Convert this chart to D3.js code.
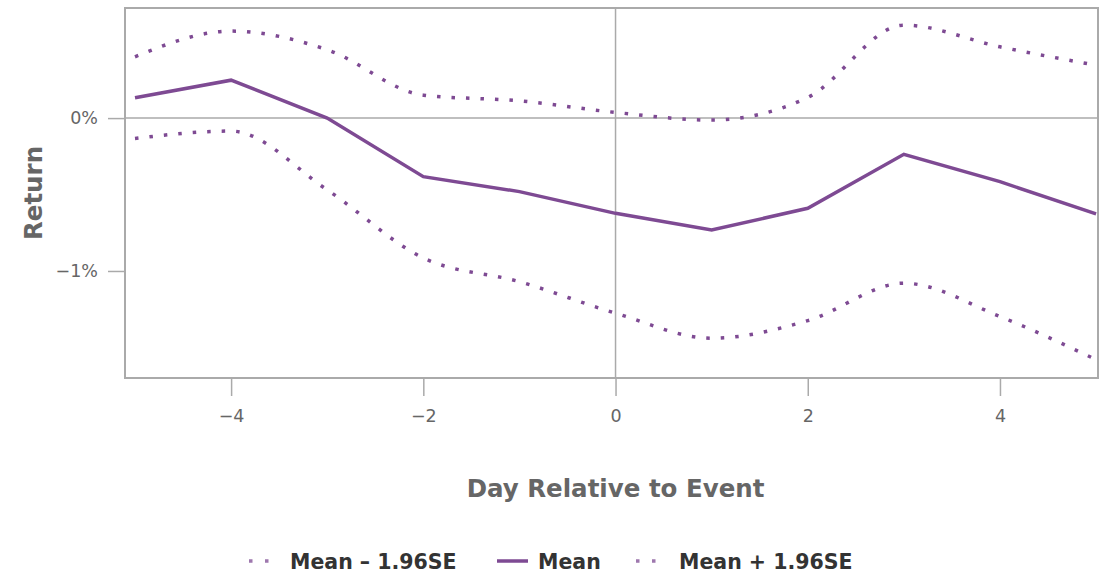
<!DOCTYPE html>
<html>
<head>
<meta charset="utf-8">
<script src="https://cdn.jsdelivr.net/npm/d3@7"></script>
<style>
  body { margin: 0; background: #fff; }
  svg { display: block; font-family: "DejaVu Sans", sans-serif; }
</style>
</head>
<body>
<svg class="chart"></svg>
<script>
// day offsets and returns (in %)
var days = [-5, -4, -3, -2, -1, 0, 1, 2, 3, 4, 5];
var meanRet  = [0.133, 0.248, 0.0, -0.383, -0.481, -0.623, -0.732, -0.590, -0.237, -0.416, -0.627];
var upperRet = [0.401, 0.569, 0.447, 0.150, 0.113, 0.037, -0.013, 0.135, 0.608, 0.466, 0.346];
var lowerRet = [-0.133, -0.085, -0.470, -0.915, -1.070, -1.276, -1.440, -1.325, -1.080, -1.298, -1.580];
var xTicks = [-4, -2, 0, 2, 4];
var yTicks = [0, -1];
var legendNames = ["Mean \u2013 1.96SE", "Mean", "Mean + 1.96SE"];

var W = 1099, H = 575;
var margin = {top: 8, right: 1, bottom: 197, left: 125},
    width = W - margin.left - margin.right,
    height = H - margin.top - margin.bottom;

var purple = "#7e4a93", grid = "#aaaaaa", textGray = "#666";

var svg = d3.select(".chart").attr("width", W).attr("height", H);
var chart = svg.append("g")
    .attr("transform", "translate(" + margin.left + "," + margin.top + ")");

var x = d3.scaleLinear().domain([-5.104, 5.02]).range([0, width]);
var y = d3.scaleLinear().domain([-1.7, 0.72]).range([height, 0]);

// frame
chart.append("rect")
    .attr("width", width).attr("height", height)
    .attr("fill", "none").attr("stroke", grid).attr("stroke-width", 2);

// zero lines
chart.append("line")
    .attr("x1", 0).attr("x2", width).attr("y1", y(0)).attr("y2", y(0))
    .attr("stroke", grid).attr("stroke-width", 1.5);
chart.append("line")
    .attr("x1", x(0)).attr("x2", x(0)).attr("y1", 0).attr("y2", height)
    .attr("stroke", grid).attr("stroke-width", 1.5);

var fmtNum = function(v) { return v < 0 ? "\u2212" + Math.abs(v) : "" + v; };

var xAxis = d3.axisBottom(x).tickValues(xTicks).tickSize(18).tickPadding(14)
    .tickFormat(fmtNum);
var yAxis = d3.axisLeft(y).tickValues(yTicks).tickSize(17).tickPadding(10)
    .tickFormat(function(v) { return fmtNum(v) + "%"; });

var gx = chart.append("g").attr("transform", "translate(0," + height + ")").call(xAxis);
var gy = chart.append("g").call(yAxis);
[gx, gy].forEach(function(g) {
  g.select(".domain").remove();
  g.selectAll("line").attr("stroke", grid).attr("stroke-width", 1.5);
  g.selectAll("text").attr("fill", textGray).style("font-size", "17.5px")
    .style("font-family", "DejaVu Sans, sans-serif");
});

// axis titles
chart.append("text")
    .attr("x", x(0)).attr("y", 497 - margin.top)
    .attr("text-anchor", "middle")
    .attr("fill", textGray)
    .style("font-size", "24.5px").style("font-weight", "bold")
    .text("Day Relative to Event");

chart.append("text")
    .attr("transform", "rotate(-90)")
    .attr("x", -(193 - margin.top)).attr("y", 42 - margin.left)
    .attr("text-anchor", "middle")
    .attr("fill", textGray)
    .style("font-size", "24.5px").style("font-weight", "bold")
    .text("Return");

// lines
var series = [
  {name: legendNames[0], vals: lowerRet, dotted: true},
  {name: legendNames[1], vals: meanRet, dotted: false},
  {name: legendNames[2], vals: upperRet, dotted: true}
];

series.forEach(function(s) {
  var pts = days.map(function(d, i) { return [d, s.vals[i]]; });
  var line = d3.line()
      .x(function(p) { return x(p[0]); })
      .y(function(p) { return y(p[1]); })
      .curve(s.dotted ? d3.curveMonotoneX : d3.curveLinear);
  chart.append("path")
      .datum(pts)
      .attr("d", line)
      .attr("fill", "none")
      .attr("stroke", purple)
      .attr("stroke-width", 3.5)
      .attr("stroke-dasharray", s.dotted ? "3.5,11" : null);
});

// legend
var legend = svg.append("g").attr("transform", "translate(0,561)");
var legX = [249, 497, 636];
var legTextX = [290, 538, 679];
series.forEach(function(s, i) {
  var g = legend.append("g");
  g.append("line")
      .attr("x1", legX[i]).attr("x2", legX[i] + (s.dotted ? 20 : 31))
      .attr("y1", 0).attr("y2", 0)
      .attr("stroke", purple).attr("stroke-width", 3.5)
      .attr("stroke-dasharray", s.dotted ? "3.5,12.5" : null)
      .attr("opacity", s.dotted ? 0.75 : 1);
  g.append("text")
      .attr("x", legTextX[i]).attr("y", 8)
      .attr("fill", "#333")
      .style("font-size", "20.5px").style("font-weight", "bold")
      .text(s.name);
});
</script>
</body>
</html>
